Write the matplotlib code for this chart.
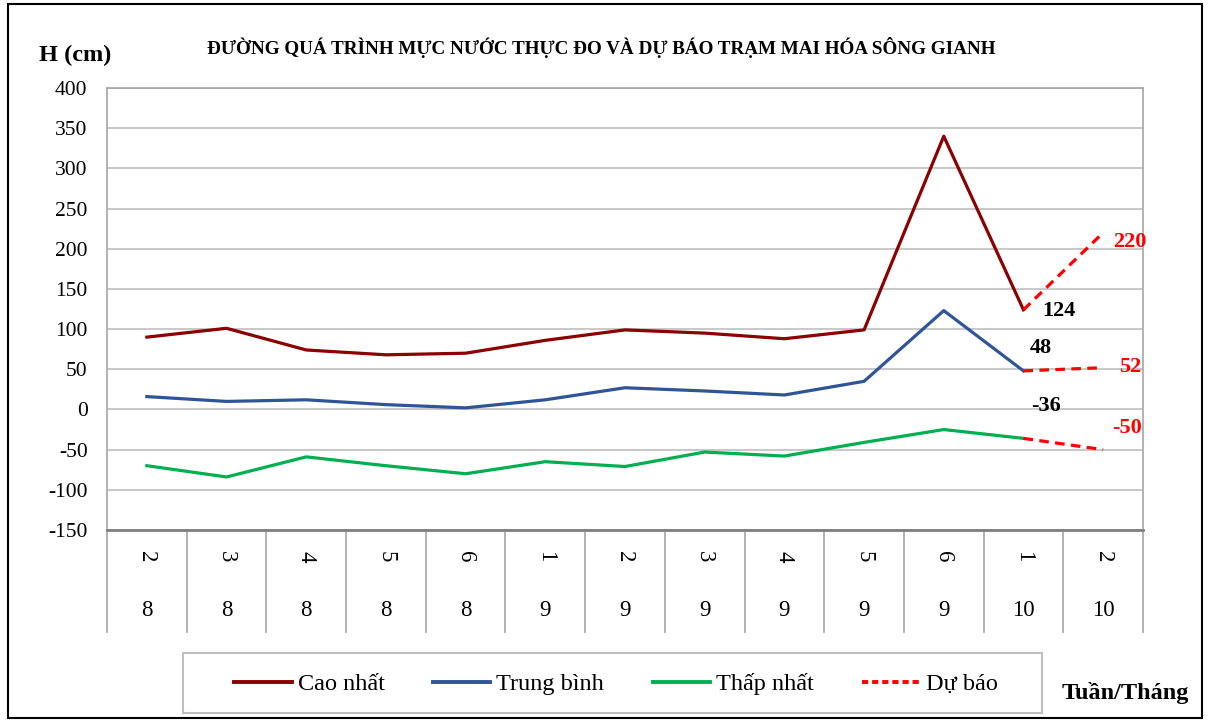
import matplotlib
matplotlib.use("Agg")
import matplotlib.pyplot as plt
from matplotlib.lines import Line2D
from matplotlib.patches import Rectangle
import matplotlib.transforms as mtransforms

# Weeks (Tuần) and months (Tháng)
weeks = ["2", "3", "4", "5", "6", "1", "2", "3", "4", "5", "6", "1", "2"]
months = ["8", "8", "8", "8", "8", "9", "9", "9", "9", "9", "9", "10", "10"]

# Observed water levels (cm), weeks 2/8 .. 1/10
cao_nhat = [90, 101, 74, 68, 70, 86, 99, 95, 88, 99, 340, 124]
trung_binh = [16, 10, 12, 6, 2, 12, 27, 23, 18, 35, 123, 48]
thap_nhat = [-70, -84, -59, -70, -80, -65, -71, -53, -58, -41, -25, -36]

# Forecast for week 2/10
du_bao_cao = 220
du_bao_tb = 52
du_bao_thap = -50

SERIF = "Liberation Serif"
plt.rcParams["font.family"] = [SERIF, "DejaVu Serif"]
plt.rcParams["axes.unicode_minus"] = False

fig = plt.figure(figsize=(12.1, 7.22), dpi=100)
W, H = 1210, 722

# outer frame
fig.patches.append(Rectangle((8 / W, 4 / H), 1194 / W, 714 / H, transform=fig.transFigure,
                             fill=False, edgecolor="black", linewidth=1.5))

ax = fig.add_axes([107 / W, 1 - 530 / H, (1143 - 107) / W, (530 - 88) / H])
ax.set_xlim(-0.5, len(weeks) - 0.5)
ax.set_ylim(-150, 400)
ax.set_yticks(range(-150, 401, 50))
ax.tick_params(axis="y", length=0, labelsize=15.5, pad=14)
ax.set_xticks([])
ax.grid(axis="y", color="#bfbfbf", linewidth=1.2)
ax.set_axisbelow(True)
for side in ["left", "right", "top"]:
    ax.spines[side].set_color("#a6a6a6")
    ax.spines[side].set_linewidth(1.2)
ax.spines["bottom"].set_color("#808080")
ax.spines["bottom"].set_linewidth(2)

x_obs = list(range(len(cao_nhat)))
c_cao, c_tb, c_thap, c_fc = "#8b0000", "#2f5597", "#00b050", "#ff0000"
lw = 2.3
ax.plot(x_obs, cao_nhat, color=c_cao, lw=lw)
ax.plot(x_obs, trung_binh, color=c_tb, lw=lw)
ax.plot(x_obs, thap_nhat, color=c_thap, lw=lw)

xf = [len(cao_nhat) - 1, len(cao_nhat)]
fc_style = dict(color=c_fc, lw=2.3, ls=(0, (3, 2)))
ax.plot(xf, [cao_nhat[-1], du_bao_cao], **fc_style)
ax.plot(xf, [trung_binh[-1], du_bao_tb], **fc_style)
ax.plot(xf, [thap_nhat[-1], du_bao_thap], **fc_style)

# value labels for the last observation and the forecast
lab = dict(fontsize=16, fontweight="bold", ha="left", va="center")
ax.text(xf[0] + 0.24, cao_nhat[-1] - 2, f"{cao_nhat[-1]}", color="black", **lab)
ax.text(xf[0] + 0.08, trung_binh[-1] + 29, f"{trung_binh[-1]}", color="black", **lab)
ax.text(xf[0] + 0.09, thap_nhat[-1] + 40, f"{thap_nhat[-1]}", color="black", **lab)
ax.text(xf[1] + 0.12, du_bao_cao - 12, f"{du_bao_cao}", color=c_fc, **lab)
ax.text(xf[1] + 0.2, du_bao_tb + 1, f"{du_bao_tb}", color=c_fc, **lab)
ax.text(xf[1] + 0.11, du_bao_thap + 27, f"{du_bao_thap}", color=c_fc, **lab)

# category axis: separators and two rows of labels
trans = mtransforms.blended_transform_factory(ax.transData, ax.transAxes)
sep_bottom = -(632 - 530) / (530 - 88)
for i in range(len(weeks) + 1):
    ax.add_line(Line2D([i - 0.5, i - 0.5], [0, sep_bottom], transform=trans,
                       color="#a6a6a6", lw=1.2, clip_on=False))
for i, (wk, mo) in enumerate(zip(weeks, months)):
    ax.text(i, -(557 - 530) / 442, wk, transform=trans, rotation=270,
            ha="center", va="center", fontsize=16.5)
    ax.text(i, -(610 - 530) / 442, mo, transform=trans,
            ha="center", va="center", fontsize=16.5)

# titles
fig.text(601 / W, 1 - 47 / H,
         "ĐƯỜNG QUÁ TRÌNH MỰC NƯỚC THỰC ĐO VÀ DỰ BÁO TRẠM MAI HÓA SÔNG GIANH",
         ha="center", va="center", fontsize=13.75, fontweight="bold")
fig.text(75 / W, 1 - 55 / H, "H (cm)", ha="center", va="center",
         fontsize=17.5, fontweight="bold")
fig.text(1125 / W, 1 - 693 / H, "Tuần/Tháng", ha="center", va="center",
         fontsize=17.5, fontweight="bold")

# legend with its own box
fig.patches.append(Rectangle((183 / W, 1 - 713 / H), (1042 - 183) / W, 60 / H,
                             transform=fig.transFigure, fill=False,
                             edgecolor="#bfbfbf", linewidth=1.5))
handles = [
    Line2D([], [], color=c_cao, lw=2.8),
    Line2D([], [], color=c_tb, lw=2.8),
    Line2D([], [], color=c_thap, lw=2.8),
    Line2D([], [], color=c_fc, lw=2.8, ls=(0, (1.6, 1.0))),
]
labels = ["Cao nhất", "Trung bình", "Thấp nhất", "Dự báo"]
fig.legend(handles, labels, loc="center", ncol=4,
           bbox_to_anchor=(616 / W, 1 - 684 / H), frameon=False,
           fontsize=17.5, handlelength=2.35, handletextpad=0.25, columnspacing=2.0,
           borderpad=0.0)

fig.savefig("out.png", dpi=100)
